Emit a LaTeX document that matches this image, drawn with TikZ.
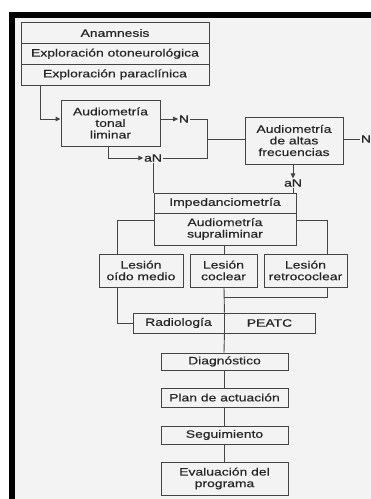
\documentclass[tikz,border=0pt]{standalone}
\usepackage{fontspec}
\newfontfamily\hv[FakeStretch=1.3,FakeBold=0.4]{Liberation Sans}
\usetikzlibrary{arrows.meta}
\definecolor{linec}{HTML}{444444}
\definecolor{textc}{HTML}{262626}
\definecolor{bgc}{HTML}{F3F3F3}
\begin{document}
\begin{tikzpicture}[x=1pt,y=-1pt,
  box/.style={draw=linec, line width=0.9pt, inner sep=0pt, align=center, text=textc,
    font=\hv\fontsize{10.7}{11.6}\selectfont},
  lbl/.style={inner sep=0.6pt, text=textc, font=\hv\fontsize{10.7}{11.6}\selectfont},
  conn/.style={draw=linec, line width=0.9pt},
  arr/.style={conn, -{Triangle[length=5pt,width=4.5pt]}}]
% background and frame
\useasboundingbox (0,0) rectangle (371,499);
\fill[white] (0,0) rectangle (371,499);
\fill[bgc] (9,12) rectangle (371,499);
\fill[black] (9,12) rectangle (371,18);
\fill[black] (9,12) rectangle (15,499);
% top stack
\node[box, minimum width=188pt, minimum height=21pt] (anam) at (115,33) {Anamnesis};
\node[box, minimum width=188pt, minimum height=20.5pt] (oto) at (115,53.75) {Exploración otoneurológica};
\node[box, minimum width=188pt, minimum height=21pt] (para) at (115,74.5) {Exploración paraclínica};
% audiometries
\node[box, minimum width=99pt, minimum height=46pt] (tonal) at (110.5,123) {Audiometría\\tonal\\liminar};
\node[box, minimum width=98pt, minimum height=47pt] (altas) at (294,140.5) {Audiometría\\de altas\\frecuencias};
% impedance stack
\node[box, minimum width=142pt, minimum height=20pt] (imp) at (225,203) {Impedanciometría};
\node[box, minimum width=142pt, minimum height=32pt] (supra) at (225,229) {Audiometría\\supraliminar};
% lesions
\node[box, minimum width=84pt, minimum height=33pt] (medio) at (141,270.5) {Lesión\\oído medio};
\node[box, minimum width=67pt, minimum height=33pt] (coclear) at (223.5,270.5) {Lesión\\coclear};
\node[box, minimum width=83pt, minimum height=33pt] (retro) at (305.5,270.5) {Lesión\\retrococlear};
% radiology / PEATC
\node[box, minimum width=91pt, minimum height=20pt] (radio) at (178.5,323) {Radiología};
\node[box, minimum width=91pt, minimum height=20pt] (peatc) at (269.5,323) {PEATC};
% lower chain
\node[box, minimum width=127pt, minimum height=17pt] (diag) at (224.5,361.5) {Diagnóstico};
\node[box, minimum width=127pt, minimum height=19pt] (plan) at (224.5,397.5) {Plan de actuación};
\node[box, minimum width=127pt, minimum height=18pt] (seg) at (224.5,435) {Seguimiento};
\node[box, minimum width=127pt, minimum height=33pt] (eval) at (224.5,478.5) {Evaluación del\\programa};
% labels
\node[lbl] (n1) at (184,119) {N};
\node[lbl] (an1) at (153,158) {aN};
\node[lbl] (n2) at (366,139) {N};
\node[lbl] (an2) at (293,183) {aN};
% coordinates
\coordinate (a1) at (40,119);
\coordinate (b1) at (108,158);
\coordinate (j1) at (207,119);
\coordinate (j2) at (207,158);
\coordinate (j3) at (207,139);
\coordinate (l1) at (117,220);
\coordinate (r1) at (327,220);
\coordinate (m1) at (224,297);
\coordinate (l2) at (117,323);
% connectors
\draw[arr] (para.south -| a1) -- (a1) -- (tonal.west |- a1);
\draw[arr] (tonal.east |- n1) -- (n1.west);
\draw[arr] (tonal.south -| b1) -- (b1) -- (an1.west);
\draw[conn] (n1.east) -- (j1) -- (j2) -- (an1.east);
\draw[conn] (j3) -- (altas.west |- j3);
\draw[conn] (altas.east |- n2) -- (n2.west);
\draw[arr] (altas.south -| an2) -- (an2.north);
\draw[conn] (an2.south) -- (imp.north -| an2);
\draw[conn] (an1.south -| imp.north west) -- (imp.north west);
\draw[conn] (supra.west |- l1) -- (l1) -- (medio.north -| l1);
\draw[conn] (supra.east |- r1) -- (r1) -- (retro.north -| r1);
\draw[conn] (supra.south -| m1) -- (coclear.north -| m1);
\draw[conn] (coclear.south -| m1) -- (radio.north east);
\draw[conn] (retro.south -| r1) -- (r1 |- m1) -- (m1);
\draw[conn] (medio.south -| l2) -- (l2) -- (radio.west);
\draw[conn] (radio.south east) -- (diag.north -| m1);
\draw[conn] (diag.south -| m1) -- (plan.north -| m1);
\draw[conn] (plan.south -| m1) -- (seg.north -| m1);
\draw[conn] (seg.south -| m1) -- (eval.north -| m1);
\end{tikzpicture}
\end{document}
